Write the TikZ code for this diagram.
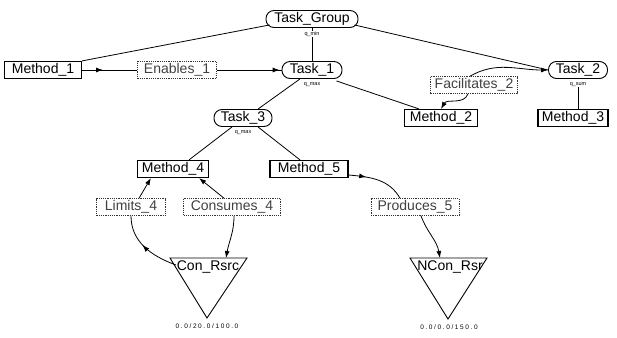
\documentclass[tikz,border=0pt]{standalone}
\usepackage{fontspec}
\setmainfont{Liberation Sans}
\usetikzlibrary{arrows.meta,decorations.markings,calc}
\begin{document}
\begin{tikzpicture}[x=1pt,y=-1pt,
  every node/.style={font=\fontsize{14}{15}\selectfont, inner sep=0pt, anchor=center},
  task/.style={draw, line width=0.9pt, rounded corners=8pt, minimum height=17pt},
  meth/.style={draw, line width=1.2pt, minimum height=17pt},
  rel/.style={draw=black!80, line width=0.6pt, dash pattern=on 1.2pt off 1pt, minimum height=17pt, text=black!75},
  qlab/.style={font=\fontsize{5.5}{6}\selectfont},
  nlab/.style={font=\fontsize{6.5}{7}\selectfont\addfontfeature{LetterSpace=25}},
  edge/.style={line width=0.8pt},
  tip/.style={-{Latex[length=7pt,width=5pt]}},
  midtip/.style={decoration={markings, mark=at position #1 with {\arrow{Latex[length=7pt,width=5pt]}}}, postaction={decorate}}
]
\useasboundingbox (0,0) rectangle (617,337);
% tasks
\node[task, minimum width=92pt] (tg) at (312,19) {Task\_Group};
\node[task, minimum width=60pt] (t1) at (312,70) {Task\_1};
\node[task, minimum width=59pt] (t2) at (578,70) {Task\_2};
\node[task, minimum width=58pt] (t3) at (243,118) {Task\_3};
% methods
\node[meth, minimum width=77pt] (m1) at (43,70) {Method\_1};
\node[meth, minimum width=73pt] (m2) at (441,118) {Method\_2};
\node[meth, minimum width=70pt] (m3) at (573,118) {Method\_3};
\node[meth, minimum width=71pt] (m4) at (173,169) {Method\_4};
\node[meth, minimum width=78pt] (m5) at (309,169) {Method\_5};
% relations
\node[rel, minimum width=79pt] (e1) at (177,70) {Enables\_1};
\node[rel, minimum width=87pt] (f2) at (474,85) {Facilitates\_2};
\node[rel, minimum width=69pt] (l4) at (131,207) {Limits\_4};
\node[rel, minimum width=97pt] (c4) at (232,207) {Consumes\_4};
\node[rel, minimum width=88pt] (p5) at (415,207) {Produces\_5};
% q labels
\node[qlab] (q0) at (312,34) {q\_min};
\node[qlab] (q1) at (312,85) {q\_max};
\node[qlab] (q3) at (243,133) {q\_max};
\node[qlab] (q2) at (578,85) {q\_sum};
% resources
\draw[line width=0.9pt] (170,258) -- (247,258) -- (207,318) -- cycle;
\node (cr) at (208,267) {Con\_Rsrc};
\node[nlab] (crn) at (207,326) {0.0/20.0/100.0};
\draw[line width=0.9pt] (410,258) -- (487,258) -- (448,319) -- cycle;
\node (nr) at (450,267) {NCon\_Rsr};
\node[nlab] (nrn) at (449,327) {0.0/0.0/150.0};
\coordinate (crtop) at (226,258);
\coordinate (crleft) at (176,265);
\coordinate (nrtop) at (440,258);
% tree edges
\draw[edge] ($(tg.south west)+(4,-3)$) -- ($(m1.north east)+(0,0)$);
\draw[edge] (tg.south) -- (q0.north);
\draw[edge] (q0.south) -- (t1.north);
\draw[edge] ($(tg.south east)+(-4,-3)$) -- (t2.west);
\draw[edge] ($(t1.south)+(-12,0)$) -- ($(t3.north)+(15,0)$);
\draw[edge] ($(t1.south east)+(-6,2)$) -- ($(m2.north west)+(15,0)$);
\draw[edge] (q2.south) -- (m3.north -| q2.south);
\draw[edge] ($(t3.south)+(-11,0)$) -- ($(m4.north)+(16,0)$);
\draw[edge] ($(t3.south)+(15,0)$) -- ($(m5.north)+(-9,0)$);
% relation edges
\draw[edge, midtip=0.38] (m1.east) -- (e1.west);
\draw[edge, midtip=0.97] (e1.east) -- (t1.west);
\draw[edge, tip] ($(f2.north)+(-4,0)$) to[out=30, in=180] (t2.west);
\draw[edge, tip] ($(f2.south)+(-6,0)$) to[out=250, in=60] (m2.north);
\draw[edge, tip] ($(l4.north)+(8,0)$) -- ($(m4.south west)+(14,0)$);
\draw[edge, tip] ($(c4.north)+(-8,0)$) -- ($(m4.south east)+(-10,0)$);
\draw[edge, midtip=0.55] (crleft) to[out=160, in=270] (l4.south);
\draw[edge, tip] ($(c4.south)+(2,0)$) to[out=270, in=80] (crtop);
\draw[edge, midtip=0.3] ($(m5.east)+(0,6)$) to[out=-5, in=120] ($(p5.north)+(-15,0)$);
\draw[edge, tip] ($(p5.south)+(6,0)$) to[out=290, in=100] (nrtop);
\end{tikzpicture}
\end{document}
